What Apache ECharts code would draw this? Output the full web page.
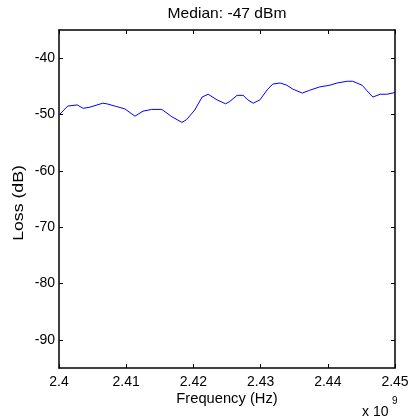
<!DOCTYPE html>
<html>
<head>
<meta charset="utf-8">
<script src="https://cdn.jsdelivr.net/npm/echarts@6/dist/echarts.min.js"></script>
<style>
  html, body { margin: 0; padding: 0; background: #fff; }
  #chart { width: 414px; height: 419px; }
</style>
</head>
<body>
<div id="chart"></div>
<script>
// Measured path loss across the 2.4 GHz band (frequency in units of 1e9 Hz)
const freqGHz = [
  2.4000, 2.4013, 2.4027, 2.4036, 2.4046, 2.4065, 2.4071, 2.4086, 2.4098, 2.4113,
  2.4125, 2.4138, 2.4153, 2.4168, 2.4183, 2.4190, 2.4202, 2.4213, 2.4222, 2.4235,
  2.4248, 2.4254, 2.4265, 2.4274, 2.4281, 2.4289, 2.4299, 2.4310, 2.4318, 2.4329,
  2.4339, 2.4348, 2.4362, 2.4373, 2.4388, 2.4403, 2.4414, 2.4429, 2.4437, 2.4451,
  2.4460, 2.4467, 2.4478, 2.4488, 2.4500
];
const lossDb = [
  -50.1, -48.5, -48.3, -48.9, -48.7, -48.0, -48.1, -48.6, -49.0, -50.3,
  -49.4, -49.1, -49.1, -50.4, -51.4, -50.9, -49.2, -46.9, -46.4, -47.4,
  -48.1, -47.7, -46.6, -46.6, -47.4, -48.0, -47.4, -45.6, -44.6, -44.4,
  -44.8, -45.5, -46.2, -45.7, -45.1, -44.8, -44.4, -44.1, -44.1, -44.8,
  -46.0, -46.9, -46.4, -46.4, -46.1
];
const xTicks = [2.40, 2.41, 2.42, 2.43, 2.44, 2.45];
const yTicks = [-90, -80, -70, -60, -50, -40];
const titleText = 'Median: -47 dBm';

const FONT = '"Liberation Sans", Arial, sans-serif';
const chart = echarts.init(document.getElementById('chart'), null, { renderer: 'canvas' });

const grid = { left: 59, right: 19, top: 30, bottom: 51 };
const plotCx = grid.left + (414 - grid.left - grid.right) / 2;

const axisLineStyle = { color: '#000', width: 1.5 };
const tickStyle = { color: '#000', width: 1 };

function xAxisDef(position, showLabels) {
  return {
    type: 'value', position: position, min: 2.4, max: 2.45,
    axisLine: { show: true, onZero: false, lineStyle: axisLineStyle },
    axisTick: { show: true, inside: true, length: 4, customValues: xTicks, lineStyle: tickStyle },
    axisLabel: {
      show: showLabels, customValues: xTicks, margin: 7,
      color: '#000', fontSize: 14, fontFamily: FONT,
      formatter: v => String(Number(v.toFixed(2)))
    },
    splitLine: { show: false }
  };
}
function yAxisDef(position, showLabels) {
  return {
    type: 'value', position: position, min: -95, max: -35,
    axisLine: { show: true, onZero: false, lineStyle: axisLineStyle },
    axisTick: { show: true, inside: true, length: 4, customValues: yTicks, lineStyle: tickStyle },
    axisLabel: {
      show: showLabels, customValues: yTicks, margin: 4,
      color: '#000', fontSize: 14, fontFamily: FONT
    },
    splitLine: { show: false }
  };
}

chart.setOption({
  animation: false,
  backgroundColor: '#fff',
  grid: grid,
  xAxis: [xAxisDef('bottom', true), xAxisDef('top', false)],
  yAxis: [yAxisDef('left', true), yAxisDef('right', false)],
  series: [{
    type: 'line',
    xAxisIndex: 0, yAxisIndex: 0,
    data: freqGHz.map((f, i) => [f, lossDb[i]]),
    showSymbol: false,
    lineStyle: { color: '#0000ff', width: 1 },
    itemStyle: { color: '#0000ff' }
  }],
  graphic: [
    {
      type: 'text', x: plotCx, y: 14, scaleX: 1.04,
      style: { text: titleText, fill: '#000', font: '15px ' + FONT, align: 'center', verticalAlign: 'middle' }
    },
    {
      type: 'text', x: plotCx, y: 399, scaleX: 1.05,
      style: { text: 'Frequency (Hz)', fill: '#000', font: '14px ' + FONT, align: 'center', verticalAlign: 'middle' }
    },
    {
      type: 'text', x: 19, y: 203, rotation: Math.PI / 2, scaleX: 1.18,
      style: { text: 'Loss (dB)', fill: '#000', font: '15px ' + FONT, align: 'center', verticalAlign: 'middle' }
    },
    {
      type: 'text', x: 362, y: 412,
      style: { text: 'x 10', fill: '#000', font: '14px ' + FONT, align: 'left', verticalAlign: 'middle' }
    },
    {
      type: 'text', x: 392, y: 401,
      style: { text: '9', fill: '#000', font: '10px ' + FONT, align: 'left', verticalAlign: 'middle' }
    }
  ]
});
</script>
</body>
</html>
